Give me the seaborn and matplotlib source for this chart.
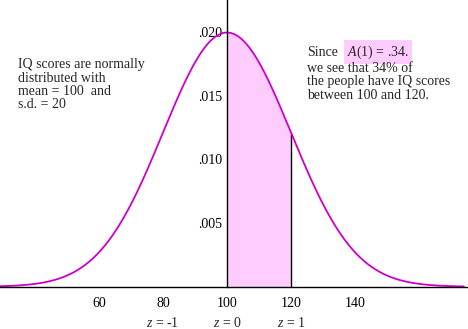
import numpy as np
import pandas as pd
import matplotlib
matplotlib.use("Agg")
import matplotlib.pyplot as plt
import seaborn as sns

# Distribution parameters
mean_iq = 100
sd_iq = 20

# Axis ticks and labels
x_ticks = [40, 60, 80, 100, 120, 140, 160]
x_tick_labels = ["", "60", "80", "100", "120", "140", ""]
y_ticks = [0.005, 0.010, 0.015, 0.020]
y_tick_labels = [".005", ".010", ".015", ".020"]
z_positions = [80, 100, 120]
z_values = ["-1", "0", "1"]

# Shaded interval
shade_lo, shade_hi = 100, 120

sns.set_style("white")
plt.rcParams["font.family"] = ["Liberation Serif", "DejaVu Serif"]
plt.rcParams["mathtext.fontset"] = "custom"
plt.rcParams["mathtext.rm"] = "Liberation Serif"
plt.rcParams["mathtext.it"] = "Liberation Serif:italic"

curve_color = "#CC00CC"
fill_color = "#FFCCFF"

xs = np.linspace(29, 174, 600)
pdf = np.exp(-0.5 * ((xs - mean_iq) / sd_iq) ** 2) / (sd_iq * np.sqrt(2 * np.pi))
df = pd.DataFrame({"iq": xs, "density": pdf})

fig = plt.figure(figsize=(4.68, 3.29), dpi=100)
ax = fig.add_axes([0, 0, 1, 1])

# Shaded area between 100 and 120
mask = (xs >= shade_lo) & (xs <= shade_hi)
ax.fill_between(xs[mask], 0, pdf[mask], color=fill_color, linewidth=0, zorder=1)
pdf_hi = np.exp(-0.5 * ((shade_hi - mean_iq) / sd_iq) ** 2) / (sd_iq * np.sqrt(2 * np.pi))
ax.plot([shade_hi, shade_hi], [0, pdf_hi], color="black", lw=1, zorder=2)

sns.lineplot(data=df, x="iq", y="density", ax=ax, color=curve_color, lw=1.3, zorder=3)

ax.set_xlim(29.06, 175.3)
ax.set_ylim(-0.00332, 0.0225)

for s in ["top", "right"]:
    ax.spines[s].set_visible(False)
ax.spines["left"].set_position(("data", 100))
ax.spines["bottom"].set_position(("data", 0))
ax.spines["left"].set_bounds(0, 0.0225)
for s in ["left", "bottom"]:
    ax.spines[s].set_color("black")
    ax.spines[s].set_linewidth(1)
    ax.spines[s].set_zorder(4)

ax.set_xticks(x_ticks)
ax.set_xticklabels(x_tick_labels)
ax.set_yticks(y_ticks)
ax.set_yticklabels(y_tick_labels)
ax.tick_params(axis="both", direction="inout", length=5, width=1, color="black",
               labelsize=10, labelcolor="black")
ax.tick_params(axis="x", pad=5)
ax.tick_params(axis="y", pad=1)
ax.set_xlabel("")
ax.set_ylabel("")

for xp, zv in zip(z_positions, z_values):
    ax.text(xp, -0.00285, r"$z$ = " + zv, ha="center", va="center", fontsize=10)

fs = 10
ax.text(18 / 468, 1 - 58 / 329,
        "IQ scores are normally\ndistributed with\nmean = 100  and\ns.d. = 20",
        transform=ax.transAxes, ha="left", va="top", fontsize=fs, linespacing=1.05)

ax.text(307 / 468, 1 - 53 / 329, "Since", transform=ax.transAxes,
        ha="left", va="center", fontsize=fs)
ax.text(347 / 468, 1 - 52 / 329, r"$A$(1) = .34.", transform=ax.transAxes,
        ha="left", va="center", fontsize=fs,
        bbox=dict(boxstyle="square,pad=0.25", facecolor=fill_color, edgecolor="none"))
ax.text(307 / 468, 1 - 62 / 329,
        "we see that 34% of\nthe people have IQ scores\nbetween 100 and 120.",
        transform=ax.transAxes, ha="left", va="top", fontsize=fs, linespacing=1.05)

fig.savefig("out.png", dpi=100)
